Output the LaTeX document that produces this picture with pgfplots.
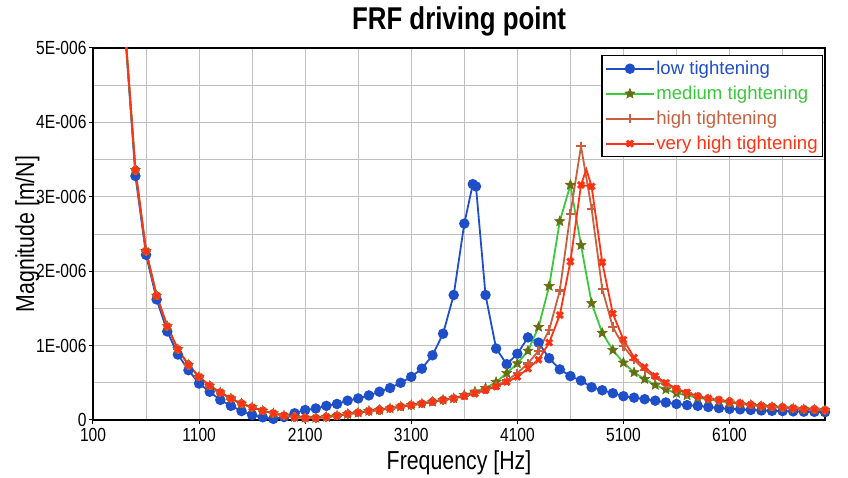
\documentclass[border=0pt]{standalone}
\usepackage{pgfplots}
\pgfplotsset{compat=1.18}
\usepackage{fontspec}
\setmainfont{Liberation Sans}
\newfontfamily\narrowfont{Liberation Sans}[FakeStretch=0.82]

\definecolor{cblue}{HTML}{1F4FC8}
\definecolor{cgreen}{HTML}{3CC83C}
\definecolor{colive}{HTML}{667012}
\definecolor{cbrown}{HTML}{C8603F}
\definecolor{cred}{HTML}{FF3214}
\definecolor{cgrid}{HTML}{C0C0C0}

% filled five-pointed star
\pgfdeclareplotmark{fstar}{%
  \pgfpathmoveto{\pgfpointpolar{90}{\pgfplotmarksize}}%
  \pgfpathlineto{\pgfpointpolar{126}{0.45\pgfplotmarksize}}%
  \pgfpathlineto{\pgfpointpolar{162}{\pgfplotmarksize}}%
  \pgfpathlineto{\pgfpointpolar{198}{0.45\pgfplotmarksize}}%
  \pgfpathlineto{\pgfpointpolar{234}{\pgfplotmarksize}}%
  \pgfpathlineto{\pgfpointpolar{270}{0.45\pgfplotmarksize}}%
  \pgfpathlineto{\pgfpointpolar{306}{\pgfplotmarksize}}%
  \pgfpathlineto{\pgfpointpolar{342}{0.45\pgfplotmarksize}}%
  \pgfpathlineto{\pgfpointpolar{18}{\pgfplotmarksize}}%
  \pgfpathlineto{\pgfpointpolar{54}{0.45\pgfplotmarksize}}%
  \pgfpathclose
  \pgfusepathqfillstroke}

% magnitudes in 1E-006 m/N
\pgfplotstableread{
f m
400 5.25
500 3.28
600 2.22
700 1.62
800 1.19
900 0.88
1000 0.67
1100 0.49
1200 0.38
1300 0.27
1400 0.19
1500 0.12
1600 0.067
1700 0.036
1800 0.015
1900 0.04
2000 0.09
2100 0.134
2200 0.155
2300 0.19
2400 0.215
2500 0.26
2600 0.29
2700 0.33
2800 0.38
2900 0.43
3000 0.50
3100 0.58
3200 0.69
3300 0.87
3400 1.16
3500 1.68
3600 2.64
3680 3.17
3710 3.14
3800 1.68
3900 0.96
4000 0.75
4100 0.89
4200 1.11
4300 1.04
4400 0.83
4500 0.68
4600 0.59
4700 0.53
4800 0.44
4900 0.40
5000 0.36
5100 0.32
5200 0.30
5300 0.28
5400 0.26
5500 0.235
5600 0.215
5700 0.20
5800 0.19
5900 0.175
6000 0.16
6100 0.15
6200 0.143
6300 0.135
6400 0.128
6500 0.123
6600 0.12
6700 0.116
6800 0.112
6900 0.11
7000 0.106
}\low

\pgfplotstableread{
f m
400 5.3
500 3.36
600 2.27
700 1.67
800 1.26
900 0.95
1000 0.74
1100 0.58
1200 0.46
1300 0.37
1400 0.29
1500 0.22
1600 0.17
1700 0.125
1800 0.09
1900 0.06
2000 0.04
2100 0.028
2200 0.027
2300 0.04
2400 0.058
2500 0.08
2600 0.098
2700 0.12
2800 0.135
2900 0.155
3000 0.18
3100 0.20
3200 0.22
3300 0.245
3400 0.27
3500 0.29
3600 0.335
3700 0.38
3800 0.43
3900 0.51
4000 0.63
4100 0.76
4200 0.93
4300 1.25
4400 1.80
4500 2.67
4600 3.16
4700 2.35
4800 1.57
4900 1.17
5000 0.94
5100 0.77
5200 0.64
5300 0.55
5400 0.47
5500 0.41
5600 0.36
5700 0.33
5800 0.30
5900 0.275
6000 0.255
6100 0.235
6200 0.215
6300 0.20
6400 0.185
6500 0.175
6600 0.165
6700 0.155
6800 0.145
6900 0.14
7000 0.132
}\medium

\pgfplotstableread{
f m
400 5.3
500 3.36
600 2.27
700 1.67
800 1.26
900 0.95
1000 0.74
1100 0.58
1200 0.46
1300 0.37
1400 0.29
1500 0.22
1600 0.17
1700 0.125
1800 0.09
1900 0.06
2000 0.04
2100 0.028
2200 0.027
2300 0.04
2400 0.058
2500 0.08
2600 0.098
2700 0.12
2800 0.135
2900 0.155
3000 0.18
3100 0.20
3200 0.22
3300 0.245
3400 0.27
3500 0.29
3600 0.33
3700 0.37
3800 0.41
3900 0.46
4000 0.53
4100 0.63
4200 0.76
4300 0.93
4400 1.21
4500 1.74
4600 2.77
4700 3.68
4800 2.84
4900 1.76
5000 1.25
5100 0.99
5200 0.81
5300 0.67
5400 0.57
5500 0.48
5600 0.41
5700 0.36
5800 0.315
5900 0.285
6000 0.265
6100 0.243
6200 0.222
6300 0.203
6400 0.188
6500 0.178
6600 0.168
6700 0.156
6800 0.146
6900 0.141
7000 0.133
}\high

\pgfplotstableread{
f m
400 5.3
500 3.36
600 2.27
700 1.67
800 1.26
900 0.95
1000 0.74
1100 0.58
1200 0.46
1300 0.37
1400 0.29
1500 0.22
1600 0.17
1700 0.125
1800 0.09
1900 0.06
2000 0.04
2100 0.028
2200 0.027
2300 0.04
2400 0.058
2500 0.08
2600 0.098
2700 0.12
2800 0.135
2900 0.155
3000 0.18
3100 0.20
3200 0.22
3300 0.245
3400 0.27
3500 0.29
3600 0.32
3700 0.355
3800 0.40
3900 0.45
4000 0.51
4100 0.58
4200 0.69
4300 0.81
4400 1.04
4500 1.41
4600 2.13
4700 3.16
4800 3.14
4900 2.12
5000 1.43
5100 1.08
5200 0.84
5300 0.71
5400 0.59
5500 0.50
5600 0.42
5700 0.37
5800 0.32
5900 0.29
6000 0.27
6100 0.246
6200 0.225
6300 0.205
6400 0.19
6500 0.18
6600 0.17
6700 0.158
6800 0.148
6900 0.142
7000 0.134
}\veryhigh

\begin{document}
\begin{tikzpicture}
\path[use as bounding box] (-93pt,-58pt) rectangle (755pt,420pt);
\begin{axis}[
    at={(0,0)}, anchor=south west,
    scale only axis,
    width=732pt, height=372pt,
    xmin=100, xmax=7000,
    ymin=0, ymax=5,
    xtick={100,1100,...,6100},
    xticklabels={100,1100,2100,3100,4100,5100,6100},
    minor xtick={600,1600,...,6600},
    ytick={0,1,...,5},
    yticklabels={0,1E-006,2E-006,3E-006,4E-006,5E-006},
    minor ytick={0.5,1.5,...,4.5},
    grid=both,
    major grid style={cgrid, line width=0.9pt},
    minor grid style={cgrid, line width=0.9pt},
    axis line style={black, line width=1.3pt},
    tick style={black, line width=1pt},
    major tick length=4pt,
    minor tick length=0pt,
    tick align=outside,
    xtick pos=bottom, ytick pos=left,
    ticklabel style={font=\narrowfont\fontsize{19}{22}\selectfont},
    xticklabel style={yshift=-1pt},
    yticklabel style={xshift=1pt},
    every axis title shift=0pt,
    title={FRF driving point},
    title style={font=\narrowfont\bfseries\fontsize{31.5}{36}\selectfont,
        at={(axis description cs:0.5,1.049)}, anchor=base},
    xlabel={Frequency [Hz]},
    xlabel style={font=\narrowfont\fontsize{26}{30}\selectfont,
        at={(axis description cs:0.5,-0.1344)}, anchor=base},
    ylabel={Magnitude [m/N]},
    ylabel style={font=\narrowfont\fontsize{26}{30}\selectfont,
        at={(axis description cs:-0.0806,0.5)}, anchor=base, rotate=0},
    legend style={at={(axis description cs:0.997,0.981)}, anchor=north east,
        draw=black, line width=1.3pt, fill=white,
        font=\fontsize{18.6}{22}\selectfont,
        inner xsep=3pt, inner ysep=4pt, row sep=7pt,
        nodes={inner sep=1.5pt}},
    legend cell align=left,
    legend image code/.code={%
        \draw[mark repeat=2, mark phase=2, #1]
        plot coordinates {(0pt,0pt) (24pt,0pt) (48pt,0pt)};},
    every axis plot/.append style={line width=1.8pt},
]
\addplot[cblue, mark=*, mark size=4.3pt, mark options={solid, fill=cblue}]
    table[x=f, y=m] {\low};
\addlegendentry{\textcolor{cblue}{low tightening}}
\addplot[cgreen, mark=fstar, mark size=5.2pt,
    mark options={solid, fill=colive, draw=colive, line width=0.6pt}]
    table[x=f, y=m] {\medium};
\addlegendentry{\textcolor{cgreen}{medium tightening}}
\addplot[cbrown, mark=+, mark size=4.6pt, mark options={solid, line width=2.2pt}]
    table[x=f, y=m] {\high};
\addlegendentry{\textcolor{cbrown}{high tightening}}
\addplot[cred, mark=x, mark size=4.2pt, mark options={solid, line width=3pt}]
    table[x=f, y=m] {\veryhigh};
\addlegendentry{\textcolor{cred}{very high tightening}}
% apex of the very high curve between its markers
\addplot[cred, forget plot] coordinates {(4700,3.16) (4750,3.37) (4800,3.14)};
\end{axis}
\end{tikzpicture}
\end{document}
